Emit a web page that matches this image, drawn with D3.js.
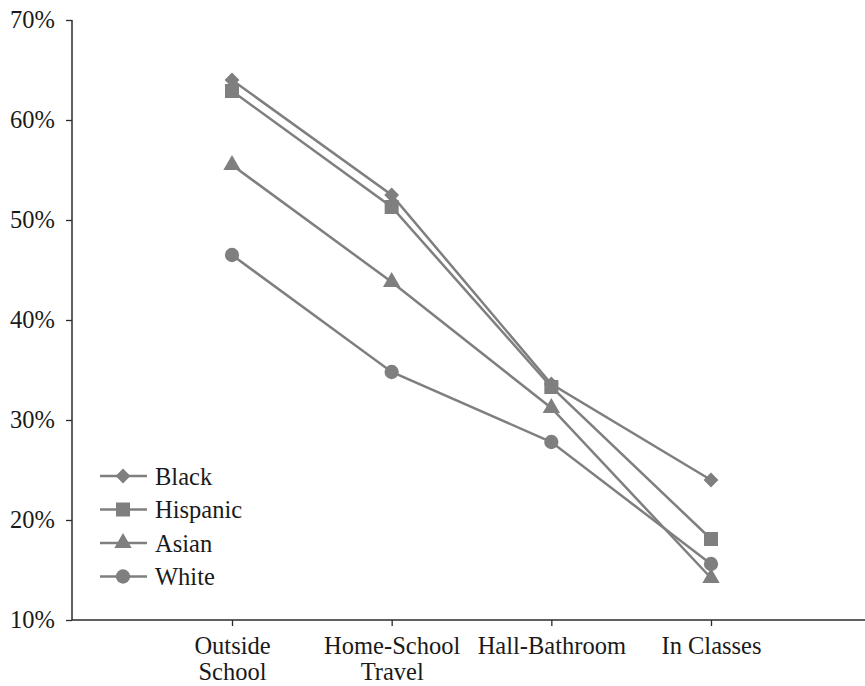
<!DOCTYPE html>
<html>
<head>
<meta charset="utf-8">
<script src="https://cdn.jsdelivr.net/npm/d3@7"></script>
<style>
  html, body { margin: 0; padding: 0; background: #fff; }
  svg { display: block; }
  svg text { font-family: "Liberation Serif", "DejaVu Serif", serif !important; fill: #1a1a1a; }
</style>
</head>
<body>
<svg id="chart" width="865" height="686"></svg>
<script>
const categories = [["Outside", "School"], ["Home-School", "Travel"], ["Hall-Bathroom"], ["In Classes"]];
const categoryKeys = ["Outside School", "Home-School Travel", "Hall-Bathroom", "In Classes"];
const seriesNames = ["Black", "Hispanic", "Asian", "White"];
const black    = [64.0, 52.5, 33.6, 24.0];
const hispanic = [62.9, 51.3, 33.3, 18.1];
const asian    = [55.5, 43.8, 31.2, 14.2];
const white    = [46.5, 34.8, 27.8, 15.6];
const yTicks = [10, 20, 30, 40, 50, 60, 70];
const symbols = ["diamond", "square", "triangle", "circle"];

const seriesValues = [black, hispanic, asian, white];
const svg = d3.select("#chart");
const grey = "#7f7f7f";
const axisColor = "#2b2b2b";
const FONT = "'Liberation Serif', 'DejaVu Serif', serif";
const FS = "24.5px";

const x0 = 72, xEnd = 865, yTop = 20, yBottom = 620;
const x = d3.scalePoint().domain(categoryKeys).range([232, 711]);
const y = d3.scaleLinear().domain([10, 70]).range([yBottom, yTop]);

// Y axis
const yAxis = svg.append("g").attr("transform", `translate(${x0},0)`)
  .call(d3.axisLeft(y).tickValues(yTicks).tickSize(6).tickPadding(11).tickFormat(d => d + "%"));
yAxis.attr("font-family", FONT);
yAxis.select(".domain").attr("stroke", axisColor).attr("stroke-width", 1.5).attr("d", `M0,${yTop}V${yBottom}`);
yAxis.selectAll(".tick line").attr("stroke", axisColor).attr("stroke-width", 1.3);
yAxis.selectAll(".tick text").style("font-size", FS).attr("fill", "#1a1a1a")
  .style("font-family", FONT);

// X axis
const xAxis = svg.append("g").attr("transform", `translate(0,${yBottom})`)
  .call(d3.axisBottom(x).tickSize(6).tickFormat(""));
xAxis.attr("font-family", FONT);
xAxis.select(".domain").attr("stroke", axisColor).attr("stroke-width", 1.5).attr("d", `M${x0},0H${xEnd}`);
xAxis.selectAll(".tick line").attr("stroke", axisColor).attr("stroke-width", 1.3);
xAxis.selectAll(".tick").each(function(d, i) {
  const t = d3.select(this).append("text")
    .attr("text-anchor", "middle")
    .style("font-size", FS)
    .style("font-family", FONT)
    .attr("fill", "#1a1a1a");
  categories[i].forEach((line, j) => {
    t.append("tspan").attr("x", 0).attr("y", 34 + j * 26).text(line);
  });
});

// symbol generator
const diamondType = {
  draw(context, size) {
    const r = Math.sqrt(size / 2);
    context.moveTo(0, -r); context.lineTo(r, 0); context.lineTo(0, r); context.lineTo(-r, 0); context.closePath();
  }
};
function sym(type, size) {
  const map = { diamond: diamondType, square: d3.symbolSquare, triangle: d3.symbolTriangle, circle: d3.symbolCircle };
  return d3.symbol().type(map[type]).size(size)();
}
const sizes = { diamond: 110, square: 196, triangle: 130, circle: 160 };

const line = d3.line().x((d, i) => x(categoryKeys[i])).y(d => y(d));

seriesValues.forEach((vals, s) => {
  svg.append("path").datum(vals)
    .attr("fill", "none").attr("stroke", grey).attr("stroke-width", 2.5)
    .attr("d", line);
});
seriesValues.forEach((vals, s) => {
  svg.append("g").selectAll("path").data(vals).join("path")
    .attr("transform", (d, i) => `translate(${x(categoryKeys[i])},${y(d)})`)
    .attr("d", sym(symbols[s], sizes[symbols[s]]))
    .attr("fill", grey);
});

// Legend
const legend = svg.append("g");
seriesNames.forEach((name, i) => {
  const ly = 476 + i * 33.5;
  const g = legend.append("g").attr("transform", `translate(0,${ly})`);
  g.append("line").attr("x1", 100).attr("x2", 147).attr("y1", 0).attr("y2", 0)
    .attr("stroke", grey).attr("stroke-width", 2.5);
  g.append("path").attr("transform", "translate(123,0)")
    .attr("d", sym(symbols[i], sizes[symbols[i]])).attr("fill", grey);
  g.append("text").attr("x", 155).attr("y", 0).attr("dy", "0.35em")
    .style("font-size", FS).style("font-family", FONT).text(name);
});
</script>
</body>
</html>
